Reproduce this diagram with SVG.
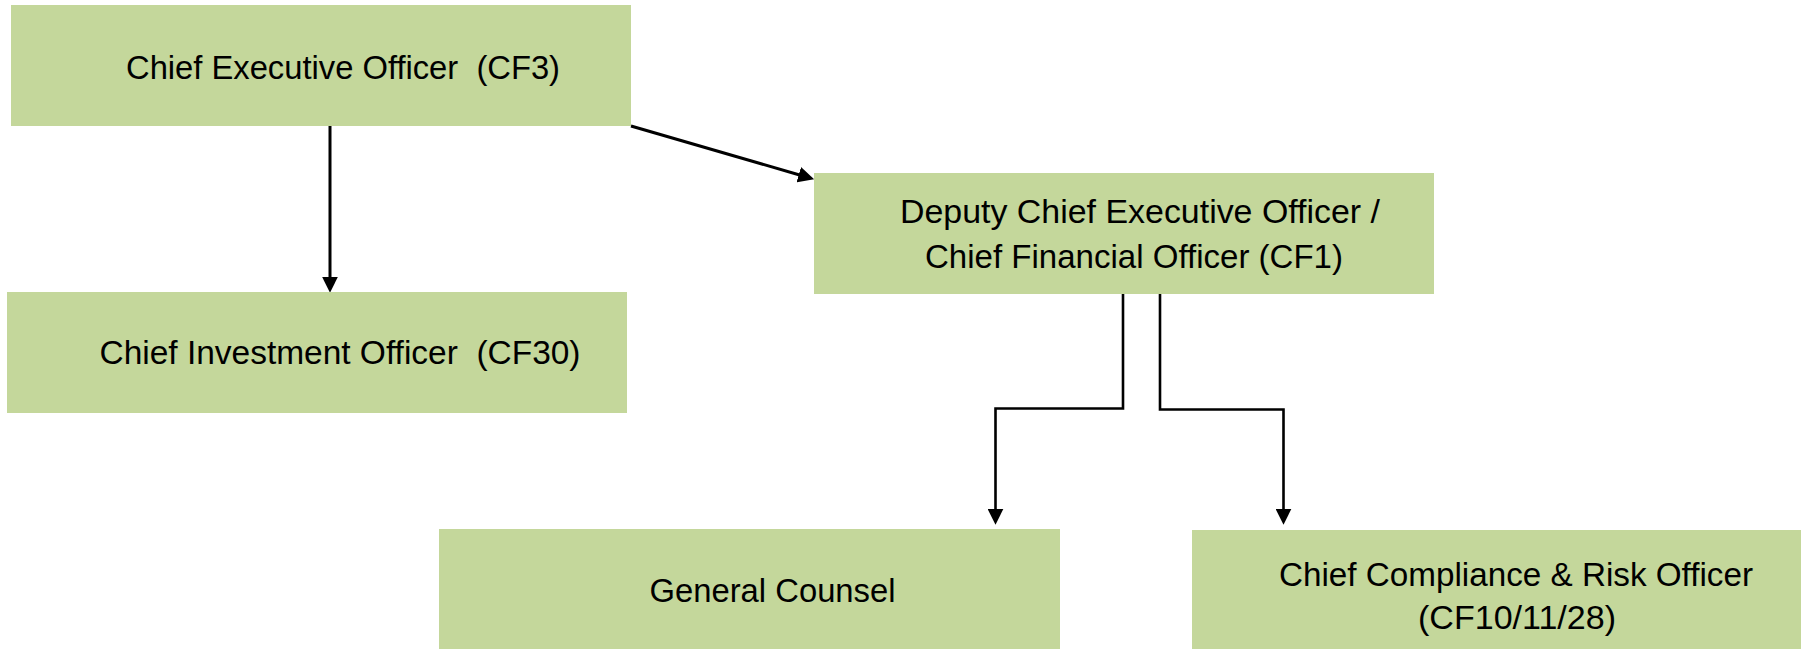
<svg xmlns="http://www.w3.org/2000/svg" width="1801" height="649" viewBox="0 0 1801 649">
  <style>
    .box { fill: #C4D79B; }
    .lbl { font-family: "Liberation Sans", Arial, sans-serif; font-size: 34px; fill: #000000; }
    .con { fill: none; stroke: #000000; stroke-linejoin: miter; }
    .thick { stroke-width: 3; }
    .thin { stroke-width: 2.6; }
  </style>
  <defs>
    <marker id="arrow" markerUnits="userSpaceOnUse" markerWidth="16" markerHeight="16" viewBox="0 0 15 15" refX="5" refY="7.5" orient="auto">
      <path d="M0,0 L15,7.5 L0,15 z" fill="#000000"/>
    </marker>
  </defs>
  <rect x="0" y="0" width="1801" height="649" fill="#FFFFFF"/>

  <g id="connectors">
    <path class="con thick" d="M330,126 V282" marker-end="url(#arrow)"/>
    <path class="con thick" d="M631,126 L803.9,176.2" marker-end="url(#arrow)"/>
    <path class="con thin" d="M1123,293 V408.5 H995.5 V514" marker-end="url(#arrow)"/>
    <path class="con thin" d="M1160,293 V409.5 H1283.5 V514" marker-end="url(#arrow)"/>
  </g>

  <g id="node-ceo">
    <rect class="box" x="11" y="5" width="620" height="121"/>
    <text class="lbl" x="126" y="78.5" xml:space="preserve" textLength="434" lengthAdjust="spacingAndGlyphs">Chief Executive Officer  (CF3)</text>
  </g>

  <g id="node-cio">
    <rect class="box" x="7" y="292" width="620" height="121"/>
    <text class="lbl" x="99.5" y="364" xml:space="preserve" textLength="481" lengthAdjust="spacingAndGlyphs">Chief Investment Officer  (CF30)</text>
  </g>

  <g id="node-deputy">
    <rect class="box" x="814" y="173" width="620" height="121"/>
    <text class="lbl" x="900" y="222.5" textLength="480" lengthAdjust="spacingAndGlyphs">Deputy Chief Executive Officer /</text>
    <text class="lbl" x="925" y="268" textLength="418" lengthAdjust="spacingAndGlyphs">Chief Financial Officer (CF1)</text>
  </g>

  <g id="node-gc">
    <rect class="box" x="439" y="529" width="621" height="120"/>
    <text class="lbl" x="649.5" y="601.5" textLength="246" lengthAdjust="spacingAndGlyphs">General Counsel</text>
  </g>

  <g id="node-ccro">
    <rect class="box" x="1192" y="530" width="609" height="119"/>
    <text class="lbl" x="1279" y="586" textLength="474" lengthAdjust="spacingAndGlyphs">Chief Compliance &amp; Risk Officer</text>
    <text class="lbl" x="1418" y="629" textLength="198" lengthAdjust="spacingAndGlyphs">(CF10/11/28)</text>
  </g>
</svg>
